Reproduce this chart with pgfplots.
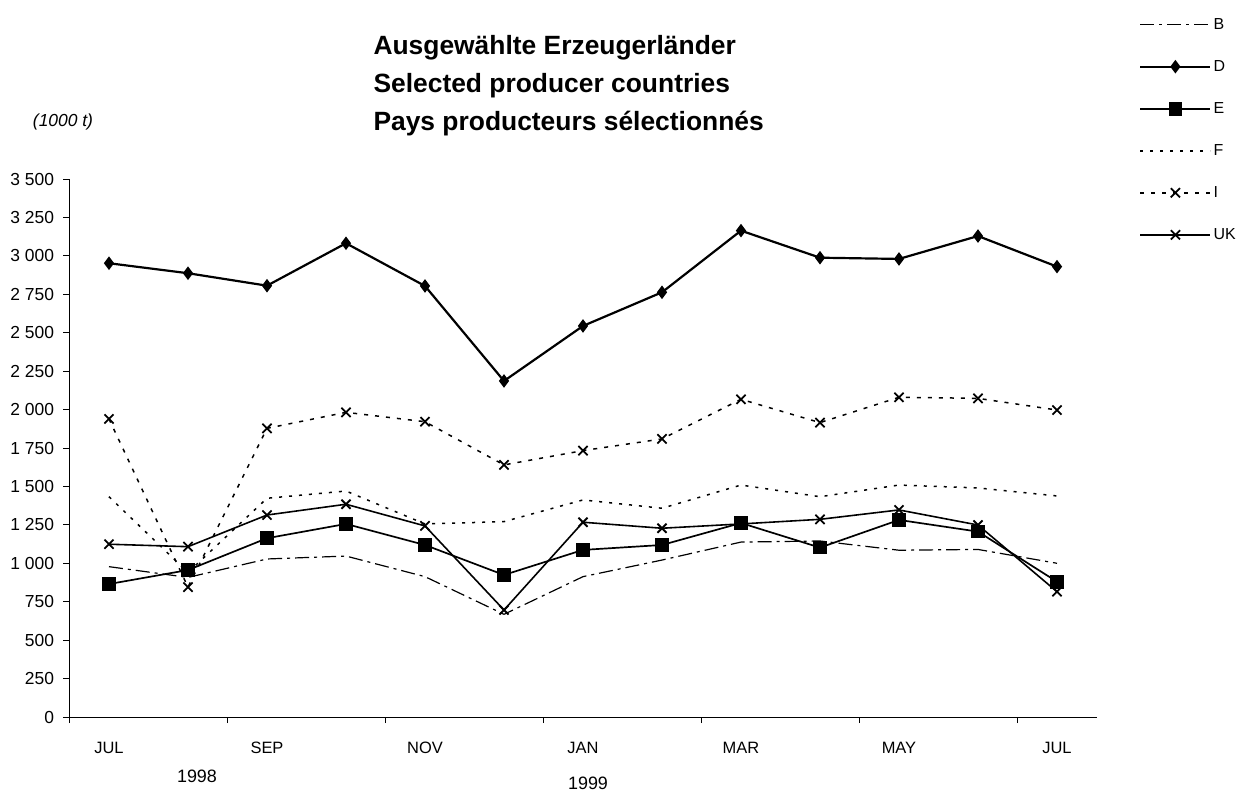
\documentclass[border=0pt]{standalone}
\usepackage{fontspec}
\setmainfont{Liberation Sans}
\usepackage{pgfplots}
\pgfplotsset{compat=1.18}
\begin{document}
\begin{tikzpicture}
\path[use as bounding box] (-69.5bp,-75bp) rectangle (1176.5bp,717bp);
\begin{axis}[
  at={(0,0)}, anchor=south west,
  scale only axis, width=1027bp, height=538bp,
  xmin=-0.5, xmax=12.5, ymin=0, ymax=3500,
  axis lines*=left,
  axis line style={line width=1pt},
  tick align=outside,
  major tick length=6bp,
  tick style={line width=0.8pt, black},
  xtick={-0.5,1.5,...,12.5},
  xticklabels={},
  extra x ticks={0,2,4,6,8,10,12},
  extra x tick labels={JUL,SEP,NOV,JAN,MAR,MAY,JUL},
  extra x tick style={major tick length=0pt, tick label style={yshift=-22bp}},
  ytick={0,250,...,3500},
  yticklabel style={font=\fontsize{17.5}{19}\selectfont, xshift=-6bp},
  xticklabel style={font=\fontsize{16.5}{18}\selectfont},
  /pgf/number format/assume math mode=true,
  /pgf/number format/1000 sep={\ },
  clip=false,
  legend cell align=left,
  legend style={at={(1.0415,1.3026)}, anchor=north west, draw=none, fill=none,
    font=\fontsize{16}{18}\selectfont, row sep=25.6bp, inner sep=0pt},
  legend image code/.code={\draw[mark repeat=2,mark phase=2] plot coordinates {(0bp,0bp) (35bp,0bp) (70bp,0bp)};},
]
\addplot[black, line width=1.2pt, dash pattern=on 14bp off 5bp on 3bp off 5bp] coordinates {
(0,978) (1,908) (2,1028) (3,1047) (4,913) (5,668) (6,913) (7,1021) (8,1138) (9,1145) (10,1085) (11,1090) (12,1000)};
\addlegendentry{B}
\addplot[black, line width=2.2pt, mark=diamond*, mark size=5bp, mark options={solid}] coordinates {
(0,2952) (1,2887) (2,2806) (3,3082) (4,2804) (5,2186) (6,2544) (7,2763) (8,3164) (9,2988) (10,2980) (11,3129) (12,2930)};
\addlegendentry{D}
\addplot[black, line width=1.7pt, mark=square*, mark size=6bp, mark options={solid}] coordinates {
(0,865) (1,956) (2,1163) (3,1256) (4,1119) (5,924) (6,1087) (7,1119) (8,1262) (9,1102) (10,1282) (11,1206) (12,880)};
\addlegendentry{E}
\addplot[black, line width=1.5pt, dash pattern=on 3bp off 7bp] coordinates {
(0,1433) (1,940) (2,1423) (3,1470) (4,1256) (5,1271) (6,1412) (7,1358) (8,1509) (9,1433) (10,1509) (11,1490) (12,1438)};
\addlegendentry{F}
\addplot[black, line width=1.5pt, dash pattern=on 4bp off 7bp, mark=x, mark size=6.5bp, mark options={solid, line width=1.8pt}] coordinates {
(0,1939) (1,845) (2,1878) (3,1982) (4,1921) (5,1640) (6,1733) (7,1809) (8,2067) (9,1915) (10,2080) (11,2073) (12,1997)};
\addlegendentry{I}
\addplot[black, line width=1.6pt, mark=x, mark size=6.5bp, mark options={solid, line width=1.8pt}] coordinates {
(0,1124) (1,1108) (2,1314) (3,1384) (4,1243) (5,696) (6,1267) (7,1228) (8,1256) (9,1286) (10,1347) (11,1249) (12,815)};
\addlegendentry{UK}
\end{axis}
\node[anchor=west, font=\bfseries\fontsize{26.5}{30}\selectfont] at (300.5bp,669.5bp) {Ausgewählte Erzeugerländer};
\node[anchor=west, font=\bfseries\fontsize{26.5}{30}\selectfont] at (300.5bp,631.5bp) {Selected producer countries};
\node[anchor=west, font=\bfseries\fontsize{26.5}{30}\selectfont] at (300.5bp,593.5bp) {Pays producteurs sélectionnés};
\node[font=\itshape\fontsize{17.5}{19}\selectfont] at (-6.5bp,595bp) {(1000 t)};
\node[font=\fontsize{18}{20}\selectfont] at (127.5bp,-59bp) {1998};
\node[font=\fontsize{18}{20}\selectfont] at (518.5bp,-66bp) {1999};
\end{tikzpicture}
\end{document}
